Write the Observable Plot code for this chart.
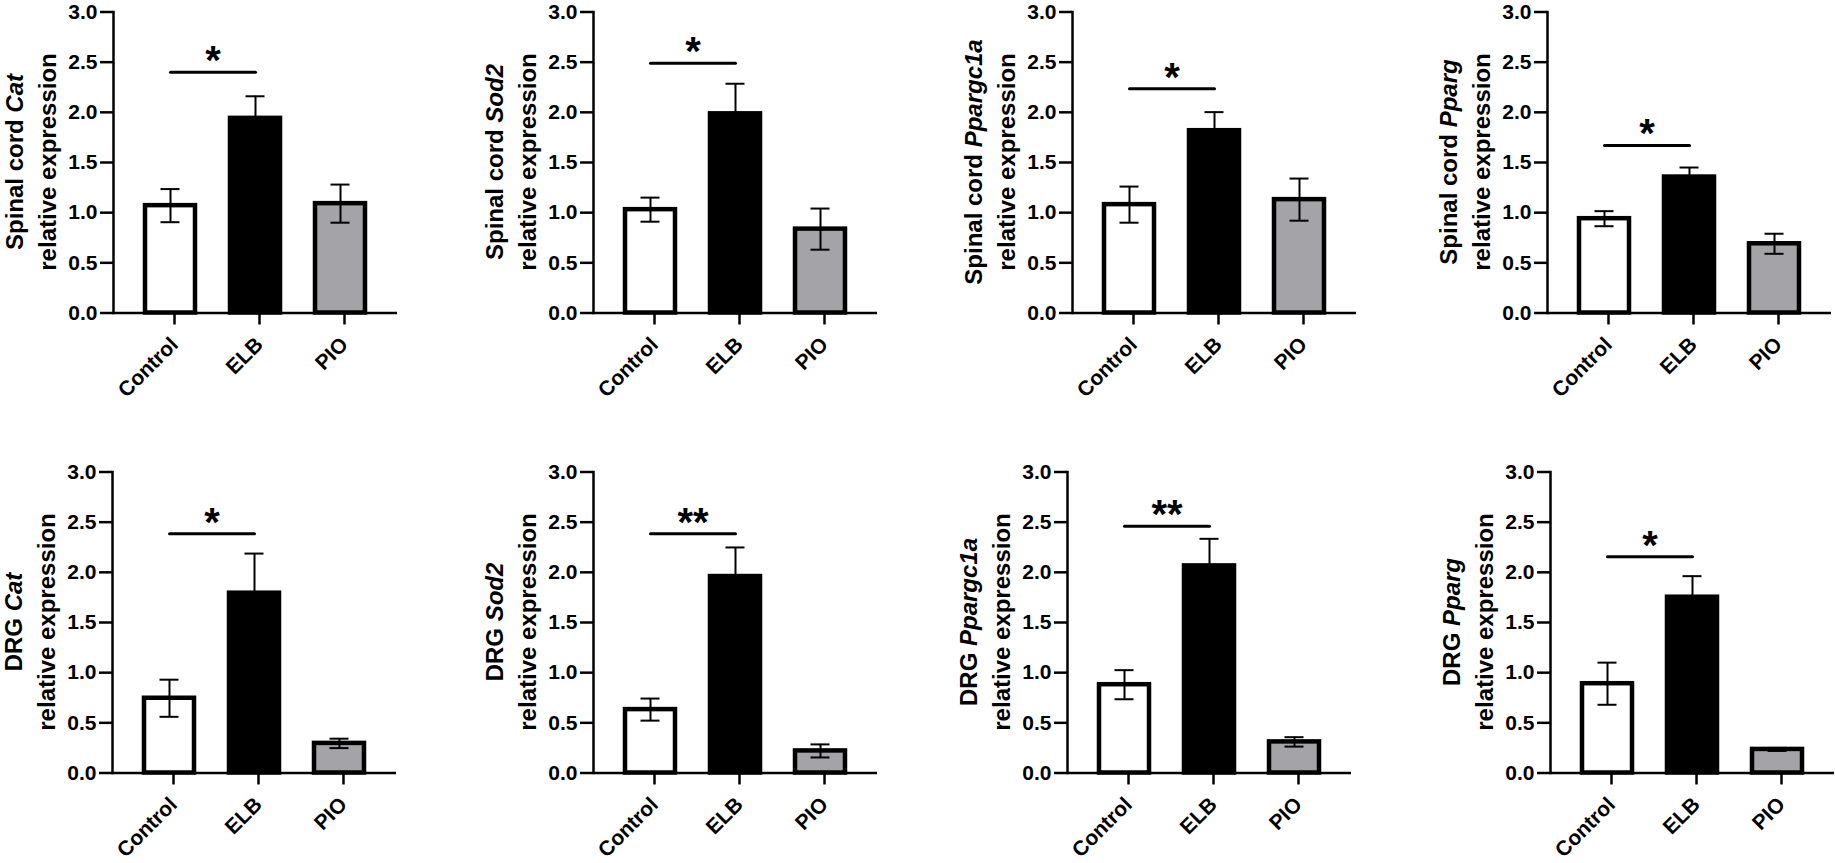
<!DOCTYPE html>
<html><head><meta charset="utf-8">
<script src="https://cdn.jsdelivr.net/npm/d3@7"></script>
<script src="https://cdn.jsdelivr.net/npm/@observablehq/plot@0.6"></script>
<style>
html,body{margin:0;padding:0;background:#fff;overflow:hidden;}
#root{position:relative;width:1835px;height:863px;background:#fff;}
.panel{position:absolute;}
</style></head><body><div id="root"></div>
<script>
// ---- data ----
const groups = ["Control", "ELB", "PIO"];
const tissues = ["Spinal cord", "Spinal cord", "Spinal cord", "Spinal cord", "DRG", "DRG", "DRG", "DRG"];
const genes = ["Cat", "Sod2", "Ppargc1a", "Pparg", "Cat", "Sod2", "Ppargc1a", "Pparg"];
const controlMean = [1.07, 1.03, 1.08, 0.94, 0.745, 0.632, 0.88, 0.89];
const controlSem  = [0.165, 0.12, 0.18, 0.075, 0.185, 0.11, 0.145, 0.21];
const elbMean     = [1.94, 1.985, 1.817, 1.355, 1.792, 1.958, 2.064, 1.752];
const elbSem      = [0.22, 0.30, 0.185, 0.095, 0.395, 0.29, 0.27, 0.21];
const pioMean     = [1.09, 0.836, 1.13, 0.69, 0.295, 0.22, 0.31, 0.235];
const pioSem      = [0.19, 0.205, 0.21, 0.10, 0.047, 0.065, 0.047, 0.015];
const sigY        = [2.40, 2.49, 2.235, 1.67, 2.385, 2.385, 2.46, 2.155];
const sigLabel    = ["*", "*", "*", "*", "*", "**", "**", "*"];
const yTicks = [0, 0.5, 1, 1.5, 2, 2.5, 3];
const groupFill = ["#ffffff", "#000000", "#a4a4a8"];

// ---- layout ----
const axisX = [113, 593, 1072, 1547, 112, 593, 1067, 1550];
const rowTop = [0, 460];
const ML = 110, PW = 284, MR = 1, MT = 11.5, PH = 301;
const FONT = "'Liberation Sans', Arial, Helvetica, sans-serif";

const root = document.getElementById("root");
const means = [controlMean, elbMean, pioMean];
const sems = [controlSem, elbSem, pioSem];

for (let i = 0; i < 8; i++) {
  const row = i < 4 ? 0 : 1;
  const height = row === 0 ? 430 : 403;
  const data = groups.map((g, j) => ({group: g, mean: means[j][i], sem: sems[j][i], fill: groupFill[j]}));
  const sig = [{group: "Control", y: sigY[i]}, {group: "ELB", y: sigY[i]}];
  const svg = Plot.plot({
    width: ML + PW + MR,
    height,
    marginLeft: ML, marginRight: MR, marginTop: MT, marginBottom: height - MT - PH,
    style: {fontFamily: FONT, fontSize: "21px", fontWeight: "bold", background: "white", overflow: "visible", color: "black"},
    x: {domain: groups, paddingInner: 0.41, paddingOuter: 0.37, label: null},
    y: {domain: [0, 3], label: null},
    color: {type: "identity"},
    marks: [
      Plot.barY(data, {x: "group", y: "mean", fill: "fill", stroke: "black", strokeWidth: 4.5}),
      Plot.ruleX(data, {x: "group", y1: d => d.mean - d.sem, y2: d => d.mean + d.sem, stroke: "black", strokeWidth: 2}),
      Plot.tickY(data, {x: "group", y: d => d.mean + d.sem, insetLeft: 15.5, insetRight: 15.5, stroke: "black", strokeWidth: 2}),
      Plot.tickY(data, {x: "group", y: d => d.mean - d.sem, insetLeft: 15.5, insetRight: 15.5, stroke: "black", strokeWidth: 2}),
      Plot.line(sig, {x: "group", y: "y", stroke: "black", strokeWidth: 3}),
      Plot.text([sigLabel[i]], {x: () => "Control", y: () => sigY[i], text: d => d, dx: 42.6, dy: 2, fontSize: 40, fontWeight: "bold", lineAnchor: "bottom", fill: "black"}),
      Plot.axisY({ticks: yTicks, tickFormat: d3.format(".1f"), tickSize: 13, tickPadding: 3, strokeWidth: 2.5, fontSize: 21, fontWeight: "bold", label: null}),
      Plot.axisX({tickRotate: -45, tickSize: 12, tickPadding: 16, dx: 4, strokeWidth: 2.5, fontSize: 21, fontWeight: "bold", label: null}),
      Plot.frame({anchor: "left", strokeWidth: 2.5}),
      Plot.ruleY([0], {strokeWidth: 2.5})
    ]
  });
  const s = d3.select(svg);
  const mid = MT + PH / 2;
  const g = s.append("g").attr("font-size", 24).attr("font-weight", "bold").attr("font-family", FONT).attr("fill", "black");
  const t1 = g.append("text").attr("text-anchor", "middle").attr("transform", `translate(${ML - 90},${mid}) rotate(-90)`);
  t1.append("tspan").text(tissues[i] + " ");
  t1.append("tspan").attr("font-style", "italic").text(genes[i]);
  g.append("text").attr("text-anchor", "middle").attr("transform", `translate(${ML - 57},${mid}) rotate(-90)`).text("relative expression");
  svg.classList.add("panel");
  svg.style.left = (axisX[i] - ML) + "px";
  svg.style.top = rowTop[row] + "px";
  svg.style.position = "absolute";
  root.appendChild(svg);
}
</script>
</body></html>
